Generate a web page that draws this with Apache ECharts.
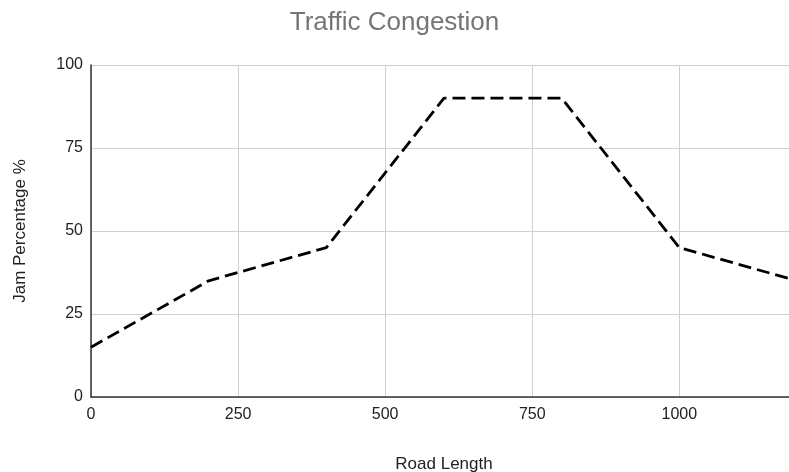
<!DOCTYPE html>
<html>
<head>
<meta charset="utf-8">
<script src="https://cdn.jsdelivr.net/npm/echarts@6/dist/echarts.min.js"></script>
<style>
  html, body { margin: 0; padding: 0; background: #fff; }
  #chart { width: 789px; height: 472px; }
</style>
</head>
<body>
<div id="chart"></div>
<script>
// Road position along the route and the share of it that is jammed
const roadLength = [0, 200, 400, 600, 800, 1000, 1200];
const jamPercent = [15, 35, 45, 90, 90, 45, 35];
const xTicks = [0, 250, 500, 750, 1000];
const yTicks = [0, 25, 50, 75, 100];

const chart = echarts.init(document.getElementById('chart'), null, { renderer: 'canvas' });
const font = 'Liberation Sans, Arial, sans-serif';

chart.setOption({
  animation: false,
  backgroundColor: '#ffffff',
  title: {
    text: 'Traffic Congestion',
    left: 'center',
    top: 5,
    textStyle: { fontFamily: font, fontSize: 26, fontWeight: 'normal', color: '#757575' }
  },
  // the plot runs a little past the right edge, so the last x value is clipped
  grid: { left: 91, width: 706, top: 65, bottom: 75, outerBoundsMode: 'none', containLabel: false },
  xAxis: {
    type: 'value',
    min: 0,
    max: 1200,
    interval: 250,
    name: 'Road Length',
    nameLocation: 'middle',
    nameGap: 59,
    nameTextStyle: { fontFamily: font, fontSize: 17, color: '#222' },
    axisLine: { show: true, lineStyle: { color: '#333', width: 1.5 } },
    axisTick: { show: false },
    axisLabel: {
      fontFamily: font, fontSize: 16, color: '#222', margin: 10,
      showMaxLabel: false,
      formatter: v => (xTicks.includes(v) ? String(v) : '')
    },
    splitLine: { show: true, lineStyle: { color: '#d0d0d0', width: 1 } }
  },
  yAxis: {
    type: 'value',
    min: 0,
    max: 100,
    interval: 25,
    name: 'Jam Percentage %',
    nameLocation: 'middle',
    nameGap: 62,
    nameTextStyle: { fontFamily: font, fontSize: 17, color: '#222' },
    axisLine: { show: true, lineStyle: { color: '#333', width: 1.5 } },
    axisTick: { show: false },
    axisLabel: {
      fontFamily: font, fontSize: 16, color: '#222', margin: 8,
      formatter: v => (yTicks.includes(v) ? String(v) : '')
    },
    splitLine: { show: true, lineStyle: { color: '#d0d0d0', width: 1 } }
  },
  series: [{
    type: 'line',
    data: roadLength.map((x, i) => [x, jamPercent[i]]),
    showSymbol: false,
    symbol: 'none',
    lineStyle: { color: '#000', width: 2.8, type: [13, 6] }
  }]
});
</script>
</body>
</html>
